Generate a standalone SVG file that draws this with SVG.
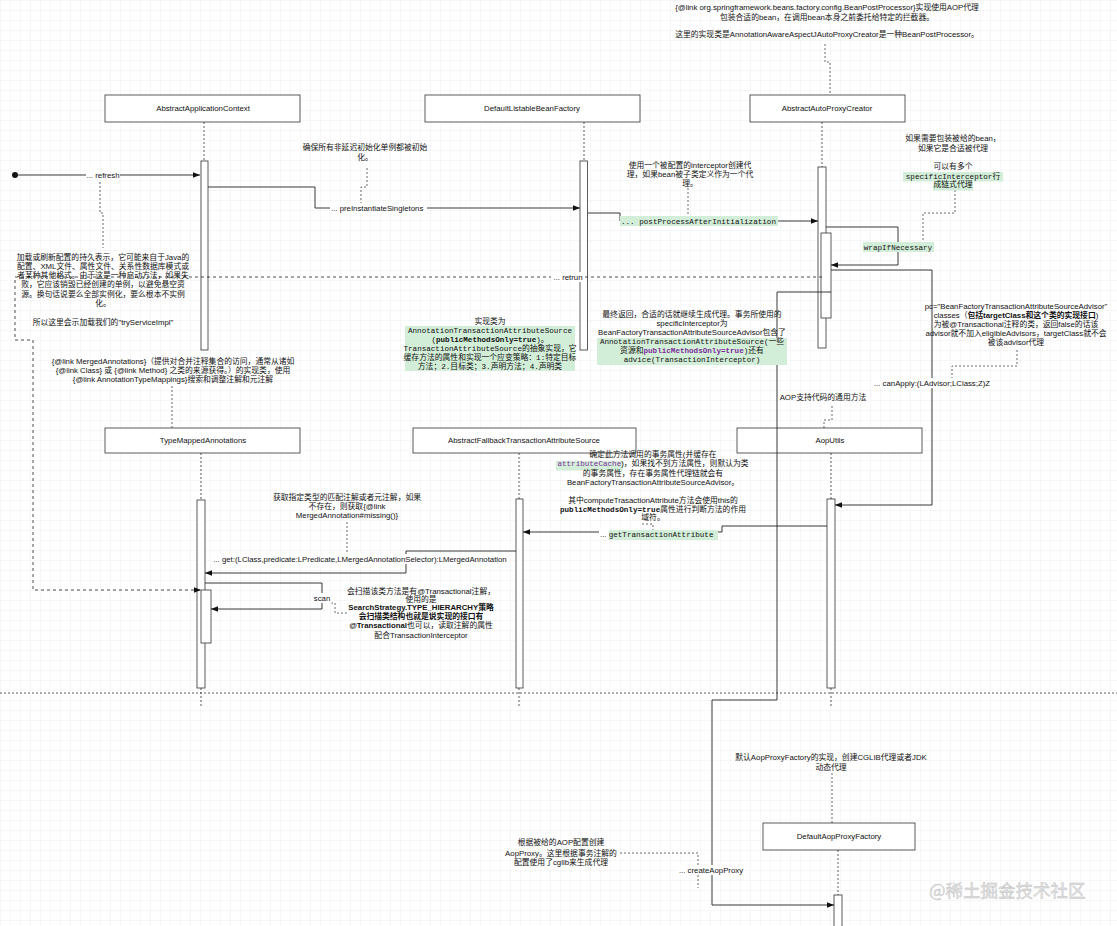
<svg xmlns="http://www.w3.org/2000/svg" width="1117" height="926" viewBox="0 0 1117 926">
<defs>
<pattern id="grid" width="10" height="10" patternUnits="userSpaceOnUse"><path d="M10 0H0V10" fill="none" stroke="#e4e4e4" stroke-width="0.6"/></pattern>
<marker id="arr" viewBox="0 0 10 10" refX="10" refY="5" markerWidth="7" markerHeight="7" orient="auto" markerUnits="userSpaceOnUse"><path d="M0,1 L10,5 L0,9 z" fill="#111"/></marker>
<style>
.t{font-family:"Liberation Sans","Noto Sans CJK SC",sans-serif;font-size:7.8px;fill:#111}
.c{text-anchor:middle}
.m{font-family:"Liberation Mono","DejaVu Sans Mono","Noto Sans CJK SC",monospace;font-size:7.6px}
.b{font-weight:bold}
.p{fill:#7b2d9b}
.hl{fill:#d3eed8}
.wb{fill:#fff}
.box{fill:#fff;stroke:#333;stroke-width:0.8}
.life{stroke:#333;stroke-width:0.8;stroke-dasharray:2 2;fill:none}
.msg{stroke:#222;stroke-width:0.9;fill:none}
.ret{stroke:#222;stroke-width:0.8;stroke-dasharray:3 3;fill:none}
.note{stroke:#444;stroke-width:0.8;stroke-dasharray:2 2;fill:none}
.wm{font-family:"Noto Sans CJK SC",sans-serif;font-size:17.5px;fill:#e2e2e2;stroke:#bcbcbc;stroke-width:0.35}
</style>
</defs>
<rect width="1117" height="926" fill="#fff"/>
<rect width="1117" height="926" fill="url(#grid)"/>

<!-- lifelines -->
<g id="lifelines">
<path class="life" d="M204,122V161M584,122V161M822,122V167M201,453V500M201,688V706M519,453V499M519,688V706M831,453V499M831,688V706M838,850V895"/>
<path class="life" d="M0,693H1117" stroke="#666"/>
</g>

<g id="AbstractApplicationContext">
<rect class="box" x="105" y="95" width="195" height="27"/>
<text class="t c" x="203" y="111.3">AbstractApplicationContext</text>
<rect class="box" x="201" y="161" width="7" height="189"/>
</g>
<g id="DefaultListableBeanFactory">
<rect class="box" x="425" y="95" width="215" height="27"/>
<text class="t c" x="532" y="111.3">DefaultListableBeanFactory</text>
<rect class="box" x="580" y="161" width="7.5" height="189"/>
</g>
<g id="AbstractAutoProxyCreator">
<rect class="box" x="750" y="95" width="155" height="27"/>
<text class="t c" x="827" y="111.3">AbstractAutoProxyCreator</text>
<rect class="box" x="818" y="167" width="8" height="181"/>
<rect class="box" x="821" y="233" width="10" height="85"/>
</g>
<g id="TypeMappedAnnotations">
<rect class="box" x="105" y="428" width="195" height="25"/>
<text class="t c" x="203" y="443.3">TypeMappedAnnotations</text>
<rect class="box" x="197" y="500" width="8" height="188"/>
<rect class="box" x="201" y="590" width="10" height="53"/>
</g>
<g id="AbstractFallbackTransactionAttributeSource">
<rect class="box" x="413" y="428" width="223" height="25"/>
<text class="t c" x="524" y="443.3">AbstractFallbackTransactionAttributeSource</text>
<rect class="box" x="516" y="499" width="7" height="189"/>
</g>
<g id="AopUtils">
<rect class="box" x="737" y="428" width="185" height="25"/>
<text class="t c" x="830" y="443.3">AopUtils</text>
<rect class="box" x="827" y="499" width="8" height="189"/>
</g>
<g id="DefaultAopProxyFactory">
<rect class="box" x="763" y="823" width="152" height="27"/>
<text class="t c" x="839" y="839.3">DefaultAopProxyFactory</text>
<rect class="box" x="834" y="895" width="8" height="40"/>
</g>

<!-- connectors -->
<g id="connectors">
<circle cx="15" cy="175" r="3" fill="#111"/>
<path class="msg" d="M15,175H200" marker-end="url(#arr)"/>
<path class="msg" d="M208,187H315V208H580" marker-end="url(#arr)"/>
<path class="msg" d="M588,213H620V221H818" marker-end="url(#arr)"/>
<path class="msg" d="M826,227H898V265H831" marker-end="url(#arr)"/>
<path class="ret" d="M822,277H15V340H33V590H201" marker-end="url(#arr)"/>
<path class="msg" d="M831,270H932V505H835" marker-end="url(#arr)"/>
<path class="msg" d="M827,526H722V532H523" marker-end="url(#arr)"/>
<path class="msg" d="M516,551H406V573H205" marker-end="url(#arr)"/>
<path class="msg" d="M205,583H322V609H211" marker-end="url(#arr)"/>
<path class="msg" d="M831,292H777V700H712V905H834" marker-end="url(#arr)"/>
<!-- note links -->
<path class="note" d="M825,44V62H830V95"/>
<path class="note" d="M367,168V187H361V204"/>
<path class="note" d="M100,182V213H103V248"/>
<path class="note" d="M688,188V214"/>
<path class="note" d="M955,190V213H923V241"/>
<path class="note" d="M1017,350V366H952V378"/>
<path class="note" d="M172,386V428"/>
<path class="note" d="M832,406V420H824V428"/>
<path class="note" d="M642,524H653V530"/>
<path class="note" d="M347,522V552"/>
<path class="note" d="M331,603H335V613H347"/>
<path class="note" d="M832,773V823"/>
<path class="note" d="M620,853H698V888"/>
</g>

<!-- message labels -->
<g id="labels">
<rect class="wb" x="86" y="170" width="34" height="10"/>
<text class="t c" x="103" y="177.8">... refresh</text>
<rect class="wb" x="330" y="203" width="97" height="10"/>
<text class="t" x="331" y="210.8">... preInstantiateSingletons</text>
<rect class="hl" x="620" y="216" width="158" height="10"/>
<text class="t m" x="621" y="223.7">... postProcessAfterInitialization</text>
<rect class="hl" x="863" y="242" width="71" height="10"/>
<text class="t m c" x="898" y="249.8">wrapIfNecessary</text>
<rect class="wb" x="551" y="272" width="34" height="10"/>
<text class="t c" x="568" y="280">... retrun</text>
<rect class="wb" x="872" y="378" width="120" height="10"/>
<text class="t c" x="932" y="385.8">... canApply:(LAdvisor;LClass;Z)Z</text>
<rect class="wb" x="599" y="530" width="11" height="10"/>
<rect class="hl" x="609" y="530" width="109" height="10"/>
<text class="t" x="600" y="537"><tspan>... </tspan><tspan class="m">getTransactionAttribute</tspan></text>
<rect class="wb" x="211" y="554" width="298" height="10"/>
<text class="t c" x="360" y="561.8">... get:(LClass,predicate:LPredicate,LMergedAnnotationSelector):LMergedAnnotation</text>
<rect class="wb" x="312" y="593" width="20" height="10"/>
<text class="t c" x="322" y="600.8">scan</text>
<rect class="wb" x="677" y="865" width="68" height="10"/>
<text class="t c" x="711" y="872.8">... createAopProxy</text>
</g>

<!-- notes -->
<g id="note-top">
<text class="t c" x="827" y="9.5">{@link org.springframework.beans.factory.config.BeanPostProcessor}实现使用AOP代理</text>
<text class="t c" x="827" y="19.5">包装合适的bean，在调用bean本身之前委托给特定的拦截器。</text>
<text class="t c" x="827" y="37">这里的实现类是AnnotationAwareAspectJAutoProxyCreator是一种BeanPostProcessor。</text>
</g>
<g id="note-refresh">
<text class="t c" x="103" y="259.5">加载或刷新配置的持久表示，它可能来自于Java的</text>
<text class="t c" x="103" y="268.8">配置、XML文件、属性文件、关系性数据库模式或</text>
<text class="t c" x="103" y="278.1">者某种其他格式。由于这是一种启动方法，如果失</text>
<text class="t c" x="103" y="287.4">败，它应该销毁已经创建的单例，以避免悬空资</text>
<text class="t c" x="103" y="296.7">源。换句话说要么全部实例化，要么根本不实例</text>
<text class="t c" x="103" y="306">化。</text>
<text class="t c" x="103" y="324.6">所以这里会示加载我们的"tryServiceImpl"</text>
</g>
<g id="note-pre">
<text class="t c" x="365" y="149.5">确保所有非延迟初始化单例都被初始</text>
<text class="t c" x="365" y="159.5">化。</text>
</g>
<g id="note-post">
<text class="t c" x="690" y="167.8">使用一个被配置的interceptor创建代</text>
<text class="t c" x="690" y="177">理，如果bean被子类定义作为一个代</text>
<text class="t c" x="690" y="186">理。</text>
</g>
<g id="note-wrap">
<text class="t c" x="953" y="140.8">如果需要包装被给的bean，</text>
<text class="t c" x="953" y="150.8">如果它是合适被代理</text>
<text class="t c" x="953" y="168.8">可以有多个</text>
<rect class="hl" x="903" y="172" width="100" height="9.5"/>
<rect class="hl" x="933" y="181.5" width="40" height="9"/>
<text class="t c" x="953" y="178.5"><tspan class="m">specificInterceptor</tspan>行</text>
<text class="t c" x="953" y="187.3">成链式代理</text>
</g>
<g id="note-impl">
<text class="t c" x="490" y="323.5">实现类为</text>
<rect class="hl" x="405" y="326" width="170" height="45"/>
<text class="t c m" x="490" y="332.5">AnnotationTransactionAttributeSource</text>
<text class="t c" x="490" y="341.5"><tspan class="m">(</tspan><tspan class="m b">publicMethodsOnly=true</tspan><tspan class="m">)</tspan>。</text>
<text class="t c" x="490" y="350.5"><tspan class="m">TransactionAttributeSource</tspan>的抽象实现，它</text>
<text class="t c" x="490" y="359.5">缓存方法的属性和实现一个应变策略：<tspan class="m">1:</tspan>特定目标</text>
<text class="t c" x="490" y="368.5">方法；<tspan class="m">2.</tspan>目标类；<tspan class="m">3.</tspan>声明方法；<tspan class="m">4.</tspan>声明类</text>
</g>
<g id="note-final">
<text class="t c" x="692" y="316.8">最终返回，合适的话就继续生成代理。事务所使用的</text>
<text class="t c" x="692" y="325.9">specificInterceptor为</text>
<text class="t c" x="692" y="335">BeanFactoryTransactionAttributeSourceAdvisor包含了</text>
<rect class="hl" x="597" y="338" width="190" height="27"/>
<text class="t c" x="692" y="344.1"><tspan class="m">AnnotationTransactionAttributeSource(</tspan>一些</text>
<text class="t c" x="692" y="353.2">资源和<tspan class="m b p">publicMethodsOnly=true</tspan><tspan class="m">)</tspan>还有</text>
<text class="t c m" x="692" y="362.3">advice(TransactionInterceptor)</text>
</g>
<g id="note-pc">
<text class="t c" x="1016" y="308.8">pc="BeanFactoryTransactionAttributeSourceAdvisor"</text>
<text class="t c" x="1016" y="317.8">classes（<tspan class="b">包括targetClass和这个类的实现接口</tspan>)</text>
<text class="t c" x="1016" y="326.8">为被@Transactional注释的类，返回false的话该</text>
<text class="t c" x="1016" y="335.5">advisor就不加入eligibleAdvisors，targetClass就不会</text>
<text class="t c" x="1016" y="344.5">被该advisor代理</text>
</g>
<g id="note-merged">
<text class="t c" x="173" y="363.5">{@link MergedAnnotations}（提供对合并注释集合的访问，通常从诸如</text>
<text class="t c" x="173" y="372.8">{@link Class} 或 {@link Method} 之类的来源获得。）的实现类，使用</text>
<text class="t c" x="173" y="381.5">{@link AnnotationTypeMappings}搜索和调整注解和元注解</text>
</g>
<g id="note-aoputils">
<text class="t c" x="823" y="399.8">AOP支持代码的通用方法</text>
</g>
<g id="note-gta">
<text class="t c" x="653" y="456.8">确定此方法调用的事务属性(并缓存在</text>
<rect class="hl" x="556" y="461" width="67" height="9.5"/>
<text class="t c" x="653" y="466"><tspan class="m p">attributeCache</tspan>)，如果找不到方法属性，则默认为类</text>
<text class="t c" x="653" y="475.8">的事务属性，存在事务属性代理链就会有</text>
<text class="t c" x="653" y="484.8">BeanFactoryTransactionAttributeSourceAdvisor。</text>
<text class="t c" x="653" y="502.8">其中computeTrasactionAttribute方法会使用this的</text>
<text class="t c" x="653" y="511.8"><tspan class="m b">publicMethodsOnly=true</tspan>属性进行判断方法的作用</text>
<text class="t c" x="653" y="520">域符。</text>
</g>
<g id="note-get">
<text class="t c" x="347" y="499.8">获取指定类型的匹配注解或者元注解，如果</text>
<text class="t c" x="347" y="508.8">不存在，则获取{@link</text>
<text class="t c" x="347" y="517.8">MergedAnnotation#missing()}</text>
</g>
<g id="note-scan">
<text class="t c" x="421" y="593.5">会扫描该类方法是有@Transactional注解，</text>
<text class="t c" x="421" y="601.5">使用的是</text>
<text class="t c b" x="421" y="610">SearchStrategy.TYPE_HIERARCHY策略</text>
<text class="t c b" x="421" y="619">会扫描类结构也就是说实现的接口有</text>
<text class="t c" x="421" y="628"><tspan class="b">@Transactional</tspan>也可以，读取注解的属性</text>
<text class="t c" x="421" y="638">配合TransactionInterceptor</text>
</g>
<g id="note-dapf">
<text class="t c" x="831" y="759.8">默认AopProxyFactory的实现，创建CGLIB代理或者JDK</text>
<text class="t c" x="831" y="769.8">动态代理</text>
</g>
<g id="note-create">
<text class="t c" x="561" y="845">根据被给的AOP配置创建</text>
<text class="t c" x="561" y="855.5">AopProxy。这里根据事务注解的</text>
<text class="t c" x="561" y="865">配置使用了cglib来生成代理</text>
</g>
<text class="wm" x="929" y="897">@稀土掘金技术社区</text>
</svg>
